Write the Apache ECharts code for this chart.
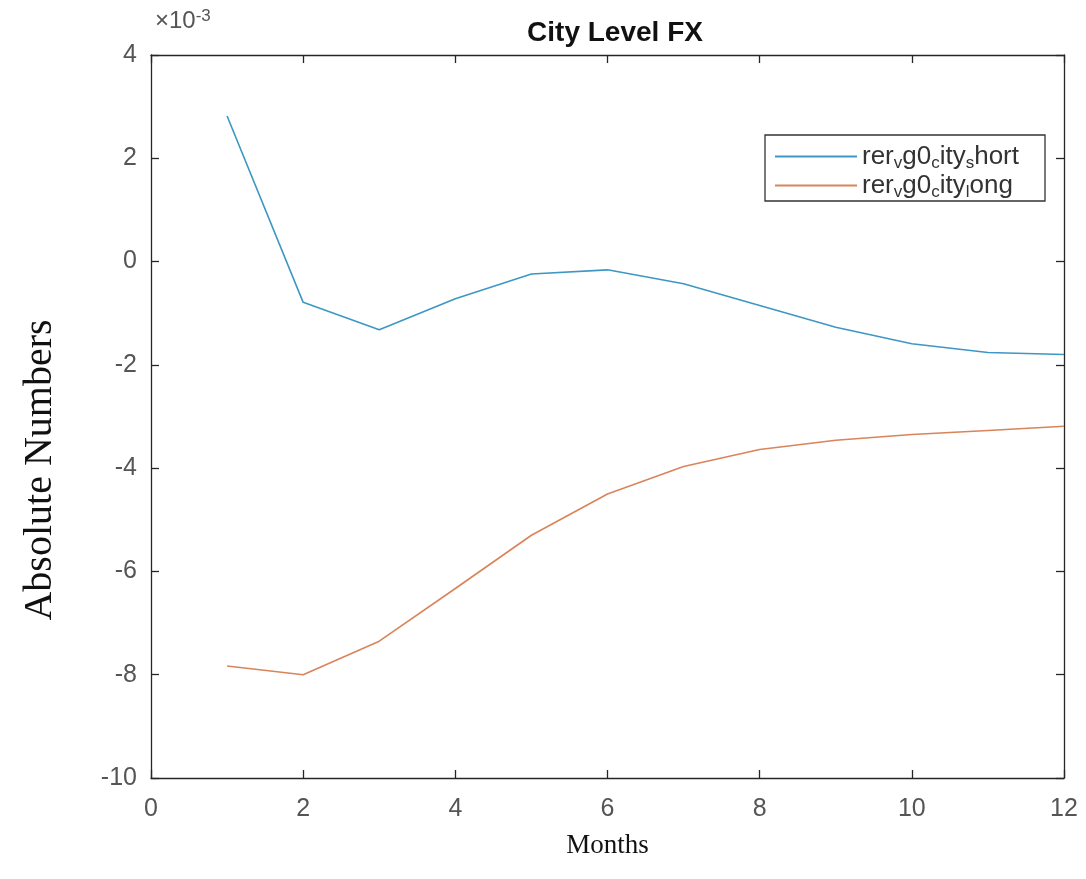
<!DOCTYPE html>
<html>
<head>
<meta charset="utf-8">
<script src="https://cdn.jsdelivr.net/npm/echarts@6/dist/echarts.min.js"></script>
<style>html,body{margin:0;padding:0;background:#fff;}#chart{width:1086px;height:879px;}</style>
</head>
<body>
<div id="chart"></div>
<script>
// values in units of 1e-3
const months = [1, 2, 3, 4, 5, 6, 7, 8, 9, 10, 11, 12];
const rerShort = [2.82, -0.79, -1.32, -0.72, -0.24, -0.16, -0.43, -0.85, -1.27, -1.59, -1.76, -1.80];
const rerLong = [-7.83, -8.00, -7.35, -6.33, -5.30, -4.50, -3.97, -3.64, -3.46, -3.35, -3.27, -3.19];
const xTicks = [0, 2, 4, 6, 8, 10, 12];
const yTicks = [-10, -8, -6, -4, -2, 0, 2, 4];
const names = ['rer_vg0_city_short', 'rer_vg0_city_long'];

const sans = 'Liberation Sans, Arial, sans-serif';
const serif = 'Liberation Serif, Times New Roman, serif';
const legendRich = {
  t: { fontSize: 26, lineHeight: 26, color: '#333', fontFamily: sans },
  s: { fontSize: 17, lineHeight: 17, color: '#333', fontFamily: sans, padding: [14, 0, 0, 0] }
};
function legendFmt(n) {
  // rer_vg0_city_short -> rer{v}g0{c}ity{s}hort
  const parts = n.split('_');
  let out = '{t|' + parts[0] + '}';
  for (let i = 1; i < parts.length; i++) {
    out += '{s|' + parts[i][0] + '}{t|' + parts[i].slice(1) + '}';
  }
  return out;
}

const chart = echarts.init(document.getElementById('chart'));
const axisLineStyle = { color: '#262626', width: 1.3 };
chart.setOption({
  animation: false,
  backgroundColor: '#fff',
  title: {
    text: 'City Level FX',
    left: 610, top: 14, textAlign: 'center',
    textStyle: { fontSize: 28, fontWeight: 'bold', color: '#111', fontFamily: sans }
  },
  graphic: [{
    type: 'text', left: 155, top: 8,
    style: {
      text: '{a|×10}{b|-3}',
      rich: {
        a: { fontSize: 24, fill: '#555', fontFamily: sans, padding: [9, 0, 0, 0] },
        b: { fontSize: 17, fill: '#555', fontFamily: sans }
      }
    }
  }, {
    type: 'text', x: 40, y: 470, rotation: Math.PI / 2,
    style: {
      text: 'Absolute Numbers', align: 'center', verticalAlign: 'middle',
      font: '40px Liberation Serif, Times New Roman, serif', fill: '#111'
    }
  }],
  legend: {
    orient: 'vertical', left: 765, top: 135,
    padding: [6, 26, 0, 10], itemGap: -2,
    itemWidth: 82, itemHeight: 2, icon: 'rect',
    borderColor: '#333', borderWidth: 1.3, backgroundColor: '#fff',
    data: names,
    formatter: legendFmt,
    textStyle: { rich: legendRich }
  },
  grid: { left: 151, right: 22, top: 55, bottom: 101 },
  xAxis: [{
    type: 'value', min: 0, max: 12, interval: 2,
    name: 'Months', nameLocation: 'middle', nameGap: 54,
    nameTextStyle: { fontFamily: serif, fontSize: 27, color: '#111' },
    axisLine: { onZero: false, lineStyle: axisLineStyle },
    axisTick: { inside: true, length: 8, lineStyle: axisLineStyle },
    axisLabel: { fontSize: 25, color: '#555', margin: 19, fontFamily: sans,
      customValues: xTicks },
    splitLine: { show: false }
  }, {
    type: 'value', min: 0, max: 12, interval: 2, position: 'top',
    axisLine: { onZero: false, lineStyle: axisLineStyle },
    axisTick: { inside: true, length: 8, lineStyle: axisLineStyle },
    axisLabel: { show: false }, splitLine: { show: false }
  }],
  yAxis: [{
    type: 'value', min: -10, max: 4, interval: 2,
    axisLine: { onZero: false, lineStyle: axisLineStyle },
    axisTick: { inside: true, length: 8, lineStyle: axisLineStyle },
    axisLabel: { fontSize: 25, color: '#555', margin: 14, fontFamily: sans,
      customValues: yTicks },
    splitLine: { show: false }
  }, {
    type: 'value', min: -10, max: 4, interval: 2, position: 'right',
    axisLine: { onZero: false, lineStyle: axisLineStyle },
    axisTick: { inside: true, length: 8, lineStyle: axisLineStyle },
    axisLabel: { show: false }, splitLine: { show: false }
  }],
  series: [{
    name: names[0], type: 'line', symbol: 'none', xAxisIndex: 0, yAxisIndex: 0,
    data: months.map((m, i) => [m, rerShort[i]]),
    lineStyle: { color: '#3d97c4', width: 1.6 }, itemStyle: { color: '#3d97c4' }
  }, {
    name: names[1], type: 'line', symbol: 'none', xAxisIndex: 0, yAxisIndex: 0,
    data: months.map((m, i) => [m, rerLong[i]]),
    lineStyle: { color: '#d9845a', width: 1.6 }, itemStyle: { color: '#d9845a' }
  }]
});
</script>
</body>
</html>
